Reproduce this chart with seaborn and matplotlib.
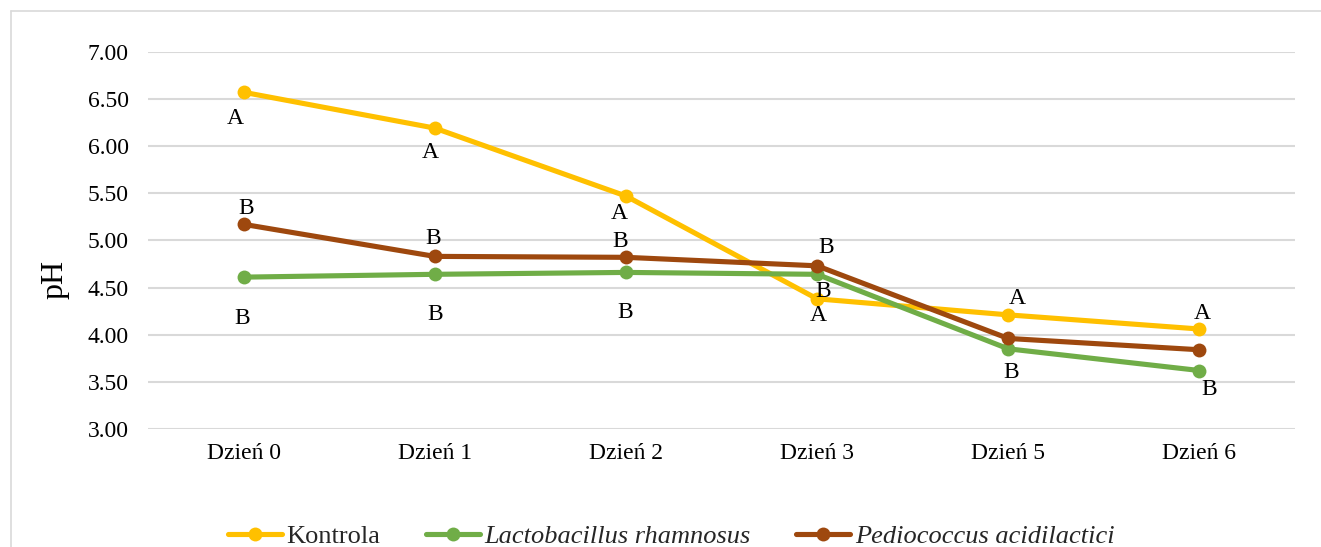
import matplotlib
matplotlib.use("Agg")
import matplotlib.pyplot as plt
import seaborn as sns
import pandas as pd
from matplotlib.lines import Line2D

# ---- data ----
days = ["Dzień 0", "Dzień 1", "Dzień 2", "Dzień 3", "Dzień 5", "Dzień 6"]
series_names = ["Kontrola", "Lactobacillus rhamnosus", "Pediococcus acidilactici"]
kontrola = [6.57, 6.19, 5.47, 4.38, 4.21, 4.06]
lacto = [4.61, 4.64, 4.66, 4.64, 3.85, 3.62]
pedio = [5.17, 4.83, 4.82, 4.73, 3.96, 3.84]
kontrola_letters = ["A", "A", "A", "A", "A", "A"]
lacto_letters = ["B", "B", "B", "B", "B", "B"]
pedio_letters = ["B", "B", "B", "B", "", ""]
yticks = [3.0, 3.5, 4.0, 4.5, 5.0, 5.5, 6.0, 6.5, 7.0]

# ---- styles ----
colors = ["#FFC000", "#70AD47", "#9E480E"]
# label offsets in pixels (dx, dy) per series per point
offsets = [
    [(-8, -25), (-4, -23), (-7, -16), (1, -16), (9, 17), (3, 17)],
    [(-1, -40), (0, -39), (-1, -39), (6, -16), (3, -23), (10, -18)],
    [(3, 17), (-2, 19), (-6, 17), (9, 19), (0, 0), (0, 0)],
]

values = [kontrola, lacto, pedio]
letters = [kontrola_letters, lacto_letters, pedio_letters]

rows = []
for name, vals in zip(series_names, values):
    for d, v in zip(days, vals):
        rows.append({"Dzień": d, "pH": v, "Seria": name})
df = pd.DataFrame(rows)

sns.set_style("white")
plt.rcParams["font.family"] = ["Liberation Serif", "DejaVu Serif"]

W, H = 1321, 547
fig = plt.figure(figsize=(W / 100, H / 100), dpi=100)
ax = fig.add_axes([148 / W, 1 - 429 / H, (1295 - 148) / W, (429 - 51.7) / H])

sns.lineplot(data=df, x="Dzień", y="pH", hue="Seria", hue_order=series_names,
             palette=colors, sort=False, marker="o", markersize=10,
             markeredgewidth=0, linewidth=3.7, ax=ax, legend=False, zorder=3)

ax.set_xlim(-0.5, len(days) - 0.5)
ax.set_ylim(3.0, 7.0)
ax.set_yticks(yticks)
ax.set_yticklabels([f"{t:.2f}" for t in yticks])
ax.yaxis.grid(True, color="#D9D9D9", linewidth=1.5, zorder=0)
ax.xaxis.grid(False)
for s in ax.spines.values():
    s.set_visible(False)
ax.tick_params(axis="y", length=0, pad=14, labelsize=17, labelcolor="#000000")
ax.tick_params(axis="x", length=0, pad=10, labelsize=17, labelcolor="#000000")
ax.set_xlabel("")
ax.set_ylabel("")

# letters
for vals, lets, offs in zip(values, letters, offsets):
    for i, (v, l, o) in enumerate(zip(vals, lets, offs)):
        if l:
            ax.annotate(l, xy=(days[i], v), xytext=(o[0], o[1] - 1),
                        textcoords="offset pixels", ha="center", va="center",
                        fontsize=17, color="black", zorder=5)

# y label
fig.text(55 / W, 1 - 279 / H, "pH", rotation=90, ha="center", va="center",
         fontsize=23, color="black")

# legend
handles = [Line2D([0], [0], color=c, lw=3.7, marker="o", markersize=10,
                  markeredgewidth=0) for c in colors]
leg = fig.legend(handles, series_names, loc="center", ncol=3,
                 bbox_to_anchor=(0.508, 1 - 536 / H), frameon=False,
                 fontsize=19, handlelength=2.05, handletextpad=0.18,
                 columnspacing=1.72, borderpad=0)
for t in leg.get_texts()[1:]:
    t.set_style("italic")

# chart border (left and top)
fig.add_artist(Line2D([10.5 / W, 10.5 / W], [0, 1 - 10.5 / H], transform=fig.transFigure,
                      color="#D9D9D9", lw=1.2))
fig.add_artist(Line2D([10.5 / W, 1], [1 - 10.5 / H, 1 - 10.5 / H], transform=fig.transFigure,
                      color="#D9D9D9", lw=1.2))

fig.savefig("out.png", dpi=100, facecolor="white")
